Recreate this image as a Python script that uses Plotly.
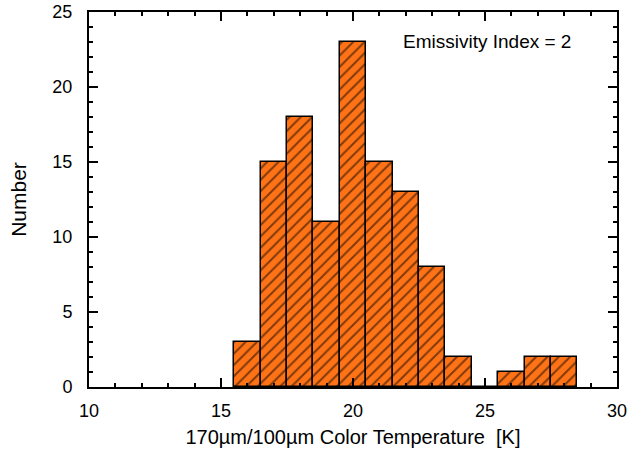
import plotly.graph_objects as go

## Data
# bin centres [K] and counts per 1 K bin
temp_bins = [16, 17, 18, 19, 20, 21, 22, 23, 24, 25, 26, 27, 28]
counts = [3, 15, 18, 11, 23, 15, 13, 8, 2, 0, 1, 2, 2]

## Plotting
fig = go.Figure()
fig.add_trace(go.Bar(
    x=temp_bins, y=counts, width=1,
    marker=dict(
        color="#FF7316",
        line=dict(color="black", width=1.5),
        pattern=dict(shape="/", fgcolor="black", bgcolor="#FF7316", size=8, solidity=0.25),
    ),
    showlegend=False,
))

fig.add_annotation(
    x=0.917, y=0.92, xref="paper", yref="paper",
    text="Emissivity Index = 2", showarrow=False,
    xanchor="right", yanchor="middle",
    font=dict(size=19, color="black"),
)

axis_style = dict(
    showline=True, linecolor="black", linewidth=2, mirror="ticks",
    ticks="inside", ticklen=9, tickwidth=1.5, tickcolor="black",
    showgrid=False, zeroline=False, automargin=False,
    ticklabeloverflow="allow",
    tickfont=dict(size=18, color="black"),
)

fig.update_layout(
    width=634, height=454,
    margin=dict(l=89, r=17, t=12, b=67),
    plot_bgcolor="white", paper_bgcolor="white",
    font=dict(family="Liberation Sans, Arial, sans-serif", color="black"),
    bargap=0,
)
fig.update_xaxes(
    range=[10, 30], dtick=5, tick0=10,
    minor=dict(dtick=1, ticks="inside", ticklen=4, tickcolor="black", tickwidth=1.5),
    ticklabelstandoff=6,
    title_text="170µm/100µm Color Temperature  [K]", title_standoff=10,
    title_font=dict(size=20, color="black"),
    **axis_style,
)
fig.update_yaxes(
    range=[0, 25], dtick=5, tick0=0,
    minor=dict(dtick=1, ticks="inside", ticklen=4, tickcolor="black", tickwidth=1.5),
    ticklabelstandoff=11,
    title_text="Number", title_standoff=20,
    title_font=dict(size=21, color="black"),
    **axis_style,
)

# drop the default 8px body margin so the figure sits flush in the window
fig.write_html("out.html", config={"displayModeBar": False},
               post_script="document.body.style.margin='0';")
